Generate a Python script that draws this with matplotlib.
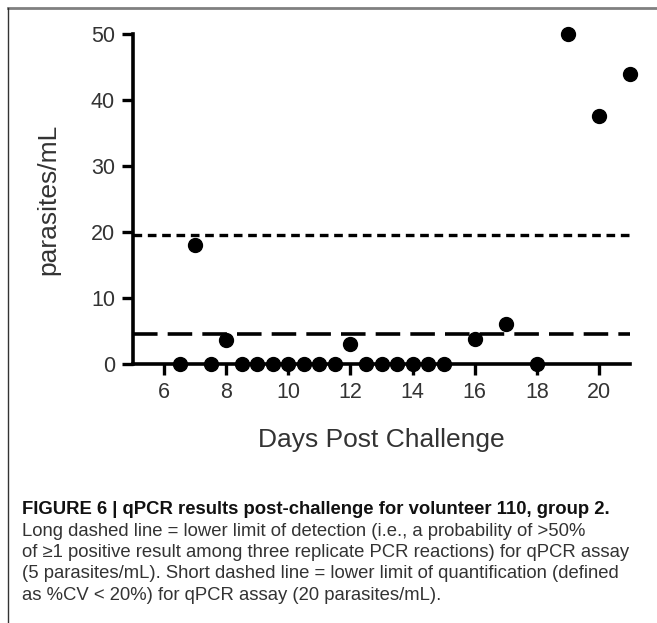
import matplotlib
matplotlib.use("Agg")
import matplotlib.pyplot as plt
from matplotlib.lines import Line2D

# ---- data ----
days = [6.5, 7, 7.5, 8, 8.5, 9, 9.5, 10, 10.5, 11, 11.5, 12, 12.5, 13, 13.5,
        14, 14.5, 15, 16, 17, 18, 19, 20, 21]
parasites = [0, 18, 0, 3.7, 0, 0, 0, 0, 0, 0, 0, 3, 0, 0, 0,
             0, 0, 0, 3.8, 6, 0, 50, 37.5, 44]
lod = 4.6    # long dashed line
loq = 19.5   # short dashed line
xticks = [6, 8, 10, 12, 14, 16, 18, 20]
yticks = [0, 10, 20, 30, 40, 50]
xlabel = "Days Post Challenge"
ylabel = "parasites/mL"
caption_title = "FIGURE 6 | qPCR results post-challenge for volunteer 110, group 2."
caption_lines = [
    "Long dashed line = lower limit of detection (i.e., a probability of >50%",
    "of \u22651 positive result among three replicate PCR reactions) for qPCR assay",
    "(5 parasites/mL). Short dashed line = lower limit of quantification (defined",
    "as %CV < 20%) for qPCR assay (20 parasites/mL).",
]

W, H = 657, 623
plt.rcParams['font.family'] = ['Liberation Sans', 'DejaVu Sans']
fig = plt.figure(figsize=(W / 100, H / 100), dpi=100)

# frame lines (top gray, left dark)
fig.add_artist(Line2D([8 / W, 1.0], [1 - 8 / H, 1 - 8 / H], color='#808080', lw=2.0))
fig.add_artist(Line2D([8 / W, 8 / W], [0, 1 - 8 / H], color='#333333', lw=1.0))

left, right = 133 / W, 630 / W
bottom, top = 1 - 364 / H, 1 - 34 / H
ax = fig.add_axes([left, bottom, right - left, top - bottom])
ax.set_xlim(5, 21)
ax.set_ylim(0, 50)

ax.plot([5, 21], [loq, loq], color='black', lw=2.4, linestyle=(0, (2.6, 1.7)),
        dash_capstyle='butt', zorder=2, clip_on=False)
ax.plot([5, 21], [lod, lod], color='black', lw=2.6, linestyle=(0, (6.8, 2.8)),
        dash_capstyle='butt', zorder=2, clip_on=False)
ax.plot(days, parasites, linestyle='none', marker='o', color='black',
        markersize=10, zorder=5, clip_on=False)

for s in ['top', 'right']:
    ax.spines[s].set_visible(False)
for s in ['left', 'bottom']:
    ax.spines[s].set_linewidth(2.6)
    ax.spines[s].set_color('black')
ax.set_xticks(xticks)
ax.set_yticks(yticks)
ax.tick_params(axis='both', direction='out', length=8, width=2.4,
               labelsize=15.5, labelcolor='#333333', color='black', pad=5)
ax.set_xlabel(xlabel, fontsize=19, color='#333333', labelpad=18)
ax.set_ylabel(ylabel, fontsize=19, color='#333333', labelpad=22)

# caption
x0 = 22 / W
fig.text(x0, 1 - 510 / H, caption_title, fontsize=13.3, fontweight='bold',
         color='#111111', va='center', ha='left')
for i, line in enumerate(caption_lines):
    fig.text(x0, 1 - (531 + 21.5 * i) / H, line, fontsize=13.3, color='#333333',
             va='center', ha='left')

fig.savefig("out.png", dpi=100, facecolor='white')
